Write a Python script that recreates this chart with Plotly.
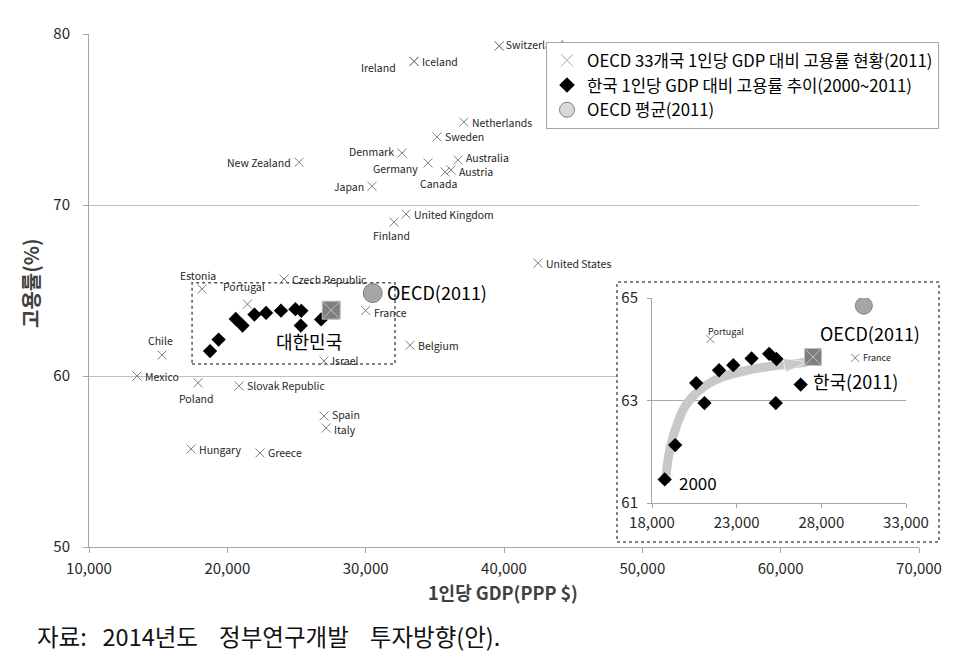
import plotly.graph_objects as go

# ---------------- data ----------------
countries = ["Switzerland", "Iceland", "Ireland", "Netherlands", "Sweden", "Denmark",
             "New Zealand", "Germany", "Australia", "Austria", "Canada", "Japan",
             "United Kingdom", "Finland", "United States", "Czech Republic", "Estonia",
             "Portugal", "France", "Belgium", "Chile", "Israel", "Mexico", "Poland",
             "Slovak Republic", "Spain", "Italy", "Hungary", "Greece"]
gdp = [39650, 33500, 33500, 37100, 35160, 32630,
       25190, 34510, 36680, 36170, 35740, 30460,
       32920, 32050, 42460, 24100, 18170,
       21450, 30000, 33210, 15280, 26990, 13470, 17880,
       20850, 26990, 27140, 17380, 22360]
emp = [79.3, 78.4, 78.4, 74.85, 73.98, 73.04,
       72.5, 72.46, 72.63, 72.05, 71.93, 71.1,
       69.47, 69.0, 66.6, 65.67, 65.09,
       64.2, 63.83, 61.8, 61.23, 60.88, 60.0, 59.6,
       59.42, 57.66, 56.96, 55.73, 55.5]

kr_years = list(range(2000, 2012))
kr_gdp = [18750, 19370, 20610, 21100, 21960, 22800, 23880, 24920, 25350, 25310, 26780, 27510]
kr_emp = [61.46, 62.13, 63.34, 62.95, 63.59, 63.69, 63.82, 63.91, 63.81, 62.95, 63.31, 63.85]

oecd_gdp = [30510]
oecd_emp = [64.85]

main_x_ticks = [10000, 20000, 30000, 40000, 50000, 60000, 70000]
main_y_ticks = [50, 60, 70, 80]
inset_x_ticks = [18000, 23000, 28000, 33000]
inset_y_ticks = [61, 63, 65]

# trend arrow drawn in the inset
arrow_gdp = [18790, 18980, 19370, 19960, 20840, 22020, 23780, 25550, 26750, 27150]
arrow_emp = [61.40, 61.91, 62.43, 62.89, 63.21, 63.44, 63.60, 63.69, 63.73, 63.75]

# highlighted region of Korea's path on the main chart
box_gdp = [17450, 32120]
box_emp = [60.7, 65.45]

legend_names = ["OECD 33개국 1인당 GDP 대비 고용률 현황(2011)",
                "한국 1인당 GDP 대비 고용률 추이(2000~2011)",
                "OECD 평균(2011)"]

NB = "\u00a0"
source_text = f"자료:{NB}{NB} 2014년도{NB}{NB}{NB} 정부연구개발{NB}{NB}{NB} 투자방향(안)."

# ---------------- layout geometry ----------------
W, H = 973, 657
L, R, T, B = 89, 919, 34, 547
INSET_AX = (652, 906, 298, 503)   # left, right, top, bottom (px)
INSET_BOX = (617, 939, 282, 542)

def pxx(px):
    return (px - L) / (R - L)

def pxy(py):
    return (B - py) / (B - T)

FONT = "Noto Sans CJK KR"
GRAY_X = "#7f7f7f"
TXT = "#262626"
LBL_SIZE = 10.5

# label placement style per country: (xanchor, yanchor, xshift, yshift)
label_style = {
    "Ireland": ("right", "middle", -16, -6),
    "Denmark": ("right", "middle", -6, 2),
    "New Zealand": ("right", "middle", -6, 0),
    "Germany": ("right", "middle", -8, -6),
    "Japan": ("right", "middle", -6, 0),
    "Canada": ("center", "top", -7, -2),
    "Finland": ("center", "top", -3, -4),
    "Estonia": ("center", "bottom", -4, 4),
    "Portugal": ("center", "bottom", -3, 8),
    "Chile": ("center", "bottom", -2, 5),
    "Poland": ("center", "top", -2, -6),
    "Australia": ("left", "middle", 6, 3),
    "Austria": ("left", "middle", 6, -2),
    "Spain": ("left", "middle", 6, 2),
    "Italy": ("left", "middle", 6, -2),
    "France": ("left", "middle", 6, -2),
}
under_legend = {"Switzerland"}   # labels that the legend box partly hides
inset_label_style = {
    "Portugal": ("left", "bottom", -4, -1),
    "France": ("left", "middle", 6, 0),
}

fig = go.Figure()

# ---------- main chart ----------
fig.add_trace(go.Scatter(
    x=gdp, y=emp, mode="markers", showlegend=False, hoverinfo="text", text=countries,
    marker=dict(symbol="x-thin-open", size=9, color=GRAY_X, line=dict(width=1, color=GRAY_X)),
    xaxis="x", yaxis="y"))
ul_x = [g for c, g in zip(countries, gdp) if c in under_legend]
ul_y = [e for c, e in zip(countries, emp) if c in under_legend]
ul_t = [c for c in countries if c in under_legend]
fig.add_trace(go.Scatter(
    x=ul_x, y=ul_y, mode="markers+text", text=ul_t, textposition="middle right", showlegend=False,
    hoverinfo="skip", cliponaxis=False,
    marker=dict(symbol="x-thin-open", size=9, color=GRAY_X, line=dict(width=1, color=GRAY_X)),
    textfont=dict(family=FONT, size=LBL_SIZE, color=TXT), xaxis="x", yaxis="y"))
fig.add_trace(go.Scatter(
    x=kr_gdp[:-1], y=kr_emp[:-1], mode="markers", showlegend=False,
    marker=dict(symbol="diamond", size=11, color="black"), xaxis="x", yaxis="y"))
fig.add_trace(go.Scatter(
    x=kr_gdp[-1:], y=kr_emp[-1:], mode="markers", showlegend=False,
    marker=dict(symbol="square-x", size=18, color="#7f7f7f", line=dict(width=1, color="#c0c0c0")),
    xaxis="x", yaxis="y"))
fig.add_trace(go.Scatter(
    x=oecd_gdp, y=oecd_emp, mode="markers", showlegend=False,
    marker=dict(symbol="circle", size=19, color="#a6a6a6", line=dict(width=1, color="#7f7f7f")),
    xaxis="x", yaxis="y"))

# ---------- inset ----------
fig.add_trace(go.Scatter(
    x=arrow_gdp, y=arrow_emp, mode="lines+markers", showlegend=False, hoverinfo="skip",
    line=dict(color="#c8c8c8", width=9, shape="spline"),
    marker=dict(symbol="arrow", size=[0] * (len(arrow_gdp) - 1) + [24],
                angleref="previous", color="#c8c8c8"),
    xaxis="x2", yaxis="y2"))
sel = [(c, g, e) for c, g, e in zip(countries, gdp, emp) if 18000 <= g <= 33000 and 61 <= e <= 65]
in_c = [s[0] for s in sel]
in_g = [s[1] for s in sel]
in_e = [s[2] for s in sel]
fig.add_trace(go.Scatter(
    x=in_g, y=in_e, mode="markers", showlegend=False, text=in_c,
    marker=dict(symbol="x-thin-open", size=8, color=GRAY_X, line=dict(width=1, color=GRAY_X)),
    xaxis="x2", yaxis="y2"))
fig.add_trace(go.Scatter(
    x=kr_gdp[:-1], y=kr_emp[:-1], mode="markers", showlegend=False,
    marker=dict(symbol="diamond", size=11, color="black"), xaxis="x2", yaxis="y2"))
fig.add_trace(go.Scatter(
    x=kr_gdp[-1:], y=kr_emp[-1:], mode="markers", showlegend=False,
    marker=dict(symbol="square-x", size=17, color="#7f7f7f", line=dict(width=1, color="#c0c0c0")),
    xaxis="x2", yaxis="y2"))
fig.add_trace(go.Scatter(
    x=oecd_gdp, y=oecd_emp, mode="markers", showlegend=False,
    marker=dict(symbol="circle", size=17, color="#a6a6a6", line=dict(width=1, color="#7f7f7f")),
    xaxis="x2", yaxis="y2"))

# ---------- legend-only traces ----------
fig.add_trace(go.Scatter(
    x=[None], y=[None], mode="markers", name=legend_names[0],
    marker=dict(symbol="x-thin-open", size=12, color="#a6a6a6", line=dict(width=1, color="#a6a6a6"))))
fig.add_trace(go.Scatter(
    x=[None], y=[None], mode="markers", name=legend_names[1],
    marker=dict(symbol="diamond", size=12, color="black")))
fig.add_trace(go.Scatter(
    x=[None], y=[None], mode="markers", name=legend_names[2],
    marker=dict(symbol="circle", size=15, color="#d9d9d9", line=dict(width=1, color="#7f7f7f"))))

ann = []
for c, g, e in zip(countries, gdp, emp):
    if c in under_legend:
        continue
    xa, ya, xs, ys = label_style.get(c, ("left", "middle", 6, 0))
    ann.append(dict(x=g, y=e, xref="x", yref="y", text=c, showarrow=False,
                    xanchor=xa, yanchor=ya, xshift=xs, yshift=ys,
                    font=dict(family=FONT, size=LBL_SIZE, color=TXT)))
for c, g, e in zip(in_c, in_g, in_e):
    xa, ya, xs, ys = inset_label_style.get(c, ("left", "middle", 6, 0))
    ann.append(dict(x=g, y=e, xref="x2", yref="y2", text=c, showarrow=False,
                    xanchor=xa, yanchor=ya, xshift=xs, yshift=ys,
                    font=dict(family=FONT, size=9, color=TXT)))

big = dict(family=FONT, size=18, color="black")
ann += [
    dict(x=oecd_gdp[0], y=oecd_emp[0], xref="x", yref="y", text="OECD(2011)", showarrow=False,
         xanchor="left", yanchor="middle", xshift=12, yshift=1, font=big),
    dict(x=(box_gdp[0] + box_gdp[1]) / 2, y=kr_emp[0], xref="x", yref="y", text="대한민국",
         showarrow=False, xanchor="center", yanchor="middle", xshift=15, yshift=10, font=big),
    dict(x=oecd_gdp[0], y=oecd_emp[0], xref="x2", yref="y2", text="OECD(2011)", showarrow=False,
         xanchor="center", yanchor="top", xshift=6, yshift=-12, font=big),
    dict(x=kr_gdp[-1], y=kr_emp[-1], xref="x2", yref="y2", text="한국(2011)", showarrow=False,
         xanchor="left", yanchor="top", xshift=-2, yshift=-9, font=big),
    dict(x=kr_gdp[0], y=kr_emp[0], xref="x2", yref="y2", text=str(kr_years[0]), showarrow=False,
         xanchor="left", yanchor="middle", xshift=12, yshift=-3,
         font=dict(family=FONT, size=17, color="black")),
    # axis titles
    dict(x=pxx(30), y=pxy(283), xref="paper", yref="paper", text="<b>고용률(%)</b>", showarrow=False,
         textangle=-90, xanchor="center", yanchor="middle",
         font=dict(family=FONT, size=20, color="#404040")),
    dict(x=pxx(503), y=pxy(592), xref="paper", yref="paper", text="<b>1인당 GDP(PPP $)</b>",
         showarrow=False, xanchor="center", yanchor="middle",
         font=dict(family=FONT, size=18, color="#404040")),
    # source
    dict(x=pxx(35), y=pxy(636), xref="paper", yref="paper", text=source_text, showarrow=False,
         xanchor="left", yanchor="middle", font=dict(family=FONT, size=23.5, color="#111111")),
]

def px_to_gdp(px):
    return 10000 + (px - L) / (R - L) * 60000

def py_to_emp(py):
    return 50 + (B - py) / (B - T) * 30

shapes = [
    # white mask so the main grid doesn't show inside the inset frame
    dict(type="rect", xref="x", yref="y", layer="between",
         x0=px_to_gdp(INSET_BOX[0]), x1=70000, y0=py_to_emp(INSET_BOX[3]), y1=py_to_emp(INSET_BOX[2]),
         fillcolor="white", line=dict(width=0)),
    dict(type="rect", xref="paper", yref="paper", layer="above",
         x0=pxx(INSET_BOX[0]), x1=pxx(INSET_BOX[1]), y0=pxy(INSET_BOX[3]), y1=pxy(INSET_BOX[2]),
         fillcolor="rgba(0,0,0,0)", line=dict(color="#595959", width=1.5, dash="dot")),
    dict(type="rect", xref="x", yref="y", layer="above",
         x0=box_gdp[0], x1=box_gdp[1], y0=box_emp[0], y1=box_emp[1],
         fillcolor="rgba(0,0,0,0)", line=dict(color="#595959", width=1.5, dash="dot")),
]

tickfont = dict(family=FONT, size=15, color="#262626")
fig.update_layout(
    width=W, height=H,
    margin=dict(l=L, r=W - R, t=T, b=H - B, pad=0),
    paper_bgcolor="white", plot_bgcolor="white",
    showlegend=True,
    legend=dict(x=pxx(546), y=pxy(42), xanchor="left", yanchor="top",
                bgcolor="white", bordercolor="#a6a6a6", borderwidth=1,
                font=dict(family=FONT, size=16.7, color="black"),
                tracegroupgap=0, itemwidth=30),
    xaxis=dict(domain=[0, 1], range=[10000, 70000], tickvals=main_x_ticks, tickformat=",",
               showgrid=False, zeroline=False, showline=True, linecolor="#a6a6a6", linewidth=1,
               ticks="outside", ticklen=5, tickcolor="#a6a6a6", tickfont=tickfont,
               ticklabelstandoff=3, anchor="y"),
    yaxis=dict(domain=[0, 1], range=[50, 80], tickvals=main_y_ticks,
               showgrid=True, gridcolor="#bfbfbf", gridwidth=1, zeroline=False,
               showline=True, linecolor="#a6a6a6", linewidth=1,
               ticks="outside", ticklen=5, tickcolor="#a6a6a6", tickfont=tickfont,
               ticklabelstandoff=10, anchor="x"),
    xaxis2=dict(domain=[pxx(INSET_AX[0]), pxx(INSET_AX[1])], range=[18000, 33000],
                tickvals=inset_x_ticks, tickformat=",", showgrid=False, zeroline=False,
                showline=True, linecolor="#a6a6a6", linewidth=1, ticks="outside", ticklen=4,
                tickcolor="#a6a6a6", tickfont=tickfont, ticklabelstandoff=2, anchor="y2"),
    yaxis2=dict(domain=[pxy(INSET_AX[3]), pxy(INSET_AX[2])], range=[61, 65],
                tickvals=inset_y_ticks, showgrid=True, gridcolor="#a6a6a6", gridwidth=1,
                zeroline=False, showline=True, linecolor="#a6a6a6", linewidth=1,
                ticks="outside", ticklen=4, tickcolor="#a6a6a6", tickfont=tickfont,
                ticklabelstandoff=6, anchor="x2"),
    annotations=ann,
    shapes=shapes,
)

fig.write_html("out.html")
